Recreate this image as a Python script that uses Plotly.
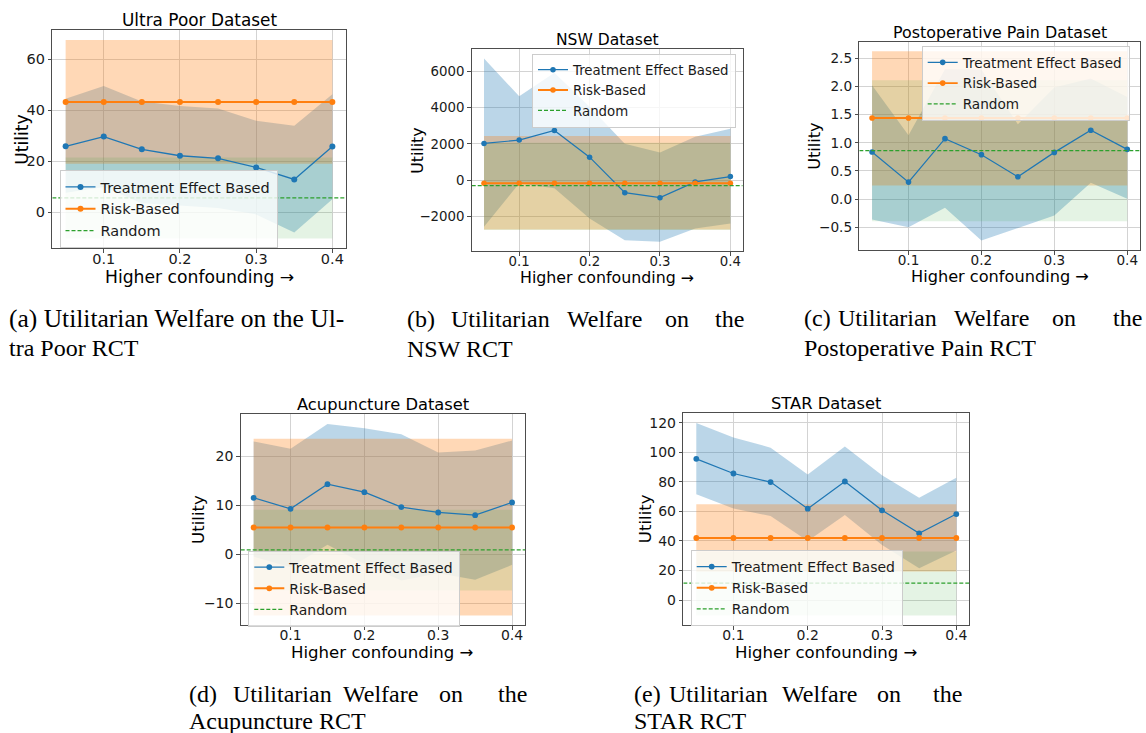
import plotly.graph_objects as go

W, H = 1146, 733

x_vals = [0.05, 0.10, 0.15, 0.20, 0.25, 0.30, 0.35, 0.40]
x_ticks = [0.1, 0.2, 0.3, 0.4]

# ---- Ultra Poor ----
up_te = [25.8, 29.6, 24.6, 22.1, 21.1, 17.5, 12.8, 25.7]
up_te_lo = [7.6, 9.8, 3.5, 2.6, 1.6, -0.9, -8.0, 5.0]
up_te_hi = [44.4, 49.4, 43.4, 41.6, 40.6, 35.8, 33.9, 46.2]
up_risk = [43.2, 43.2, 43.2, 43.2, 43.2, 43.2, 43.2, 43.2]
up_risk_lo = [19.0, 19.0, 19.0, 19.0, 19.0, 19.0, 19.0, 19.0]
up_risk_hi = [67.5, 67.5, 67.5, 67.5, 67.5, 67.5, 67.5, 67.5]
up_rand = [5.6, 5.6, 5.6, 5.6, 5.6, 5.6, 5.6, 5.6]
up_rand_lo = [-10.3, -10.3, -10.3, -10.3, -10.3, -10.3, -10.3, -10.3]
up_rand_hi = [21.4, 21.4, 21.4, 21.4, 21.4, 21.4, 21.4, 21.4]
up_yticks = [0, 20, 40, 60]

# ---- NSW ----
nsw_te = [2028, 2212, 2747, 1272, -682, -958, -92, 203]
nsw_te_lo = [-2562, -166, -442, -2101, -3300, -3392, -2654, -2378]
nsw_te_hi = [6710, 4627, 5917, 4050, 2009, 1530, 2400, 2839]
nsw_risk = [-166, -166, -166, -166, -166, -166, -166, -166]
nsw_risk_lo = [-2710, -2710, -2710, -2710, -2710, -2710, -2710, -2710]
nsw_risk_hi = [2433, 2433, 2433, 2433, 2433, 2433, 2433, 2433]
nsw_rand = [-295, -295, -295, -295, -295, -295, -295, -295]
nsw_rand_lo = [-2740, -2740, -2740, -2740, -2740, -2740, -2740, -2740]
nsw_rand_hi = [2070, 2070, 2070, 2070, 2070, 2070, 2070, 2070]
nsw_yticks = [-2000, 0, 2000, 4000, 6000]

# ---- Postoperative Pain ----
pp_te = [0.836, 0.302, 1.074, 0.789, 0.397, 0.830, 1.222, 0.884]
pp_te_lo = [-0.362, -0.498, -0.154, -0.735, -0.516, -0.290, 0.290, 0.006]
pp_te_hi = [2.020, 1.133, 2.307, 2.300, 1.329, 1.980, 2.141, 1.815]
pp_risk = [1.441, 1.441, 1.441, 1.441, 1.441, 1.441, 1.441, 1.441]
pp_risk_lo = [0.243, 0.243, 0.243, 0.243, 0.243, 0.243, 0.243, 0.243]
pp_risk_hi = [2.627, 2.627, 2.627, 2.627, 2.627, 2.627, 2.627, 2.627]
pp_rand = [0.86, 0.86, 0.86, 0.86, 0.86, 0.86, 0.86, 0.86]
pp_rand_lo = [-0.391, -0.391, -0.391, -0.391, -0.391, -0.391, -0.391, -0.391]
pp_rand_hi = [2.111, 2.111, 2.111, 2.111, 2.111, 2.111, 2.111, 2.111]
pp_yticks = [-0.5, 0.0, 0.5, 1.0, 1.5, 2.0, 2.5]

# ---- Acupuncture ----
ac_te = [11.52, 9.27, 14.31, 12.68, 9.61, 8.52, 7.98, 10.57]
ac_te_lo = [-0.5, -2.7, 1.9, -2.0, -5.4, -3.9, -5.25, -2.18]
ac_te_hi = [23.04, 21.54, 26.65, 25.77, 24.54, 20.79, 21.2, 23.24]
ac_risk = [5.45, 5.45, 5.45, 5.45, 5.45, 5.45, 5.45, 5.45]
ac_risk_lo = [-12.54, -12.54, -12.54, -12.54, -12.54, -12.54, -12.54, -12.54]
ac_risk_hi = [23.6, 23.6, 23.6, 23.6, 23.6, 23.6, 23.6, 23.6]
ac_rand = [0.89, 0.89, 0.89, 0.89, 0.89, 0.89, 0.89, 0.89]
ac_rand_lo = [-7.43, -7.43, -7.43, -7.43, -7.43, -7.43, -7.43, -7.43]
ac_rand_hi = [9.07, 9.07, 9.07, 9.07, 9.07, 9.07, 9.07, 9.07]
ac_yticks = [-10, 0, 10, 20]

# ---- STAR ----
st_te = [95.5, 85.6, 79.8, 61.8, 80.2, 60.7, 45.2, 58.2]
st_te_lo = [71.5, 62.0, 56.9, 40.0, 57.5, 37.3, 21.6, 33.5]
st_te_hi = [119.8, 109.9, 103.1, 84.9, 103.8, 84.5, 69.2, 82.7]
st_risk = [42.0, 42.0, 42.0, 42.0, 42.0, 42.0, 42.0, 42.0]
st_risk_lo = [19.3, 19.3, 19.3, 19.3, 19.3, 19.3, 19.3, 19.3]
st_risk_hi = [64.9, 64.9, 64.9, 64.9, 64.9, 64.9, 64.9, 64.9]
st_rand = [11.5, 11.5, 11.5, 11.5, 11.5, 11.5, 11.5, 11.5]
st_rand_lo = [-10.3, -10.3, -10.3, -10.3, -10.3, -10.3, -10.3, -10.3]
st_rand_hi = [32.8, 32.8, 32.8, 32.8, 32.8, 32.8, 32.8, 32.8]
st_yticks = [0, 20, 40, 60, 80, 100, 120]

titles = ["Ultra Poor Dataset", "NSW Dataset", "Postoperative Pain Dataset",
          "Acupuncture Dataset", "STAR Dataset"]
series_names = ["Treatment Effect Based", "Risk-Based", "Random"]
x_label = "Higher confounding →"
y_label = "Utility"

# box = (left, right, top, bottom) in px; legend = top-left px; s = text scale; ylx = y-label x
panels = [
    dict(te=(up_te, up_te_lo, up_te_hi), risk=(up_risk, up_risk_lo, up_risk_hi),
         rand=(up_rand, up_rand_lo, up_rand_hi), yticks=up_yticks, fmt="{:g}",
         box=(52.3, 345.7, 30.0, 248.3), legend=(59.5, 170.0), s=1.0, ylx=21.7),
    dict(te=(nsw_te, nsw_te_lo, nsw_te_hi), risk=(nsw_risk, nsw_risk_lo, nsw_risk_hi),
         rand=(nsw_rand, nsw_rand_lo, nsw_rand_hi), yticks=nsw_yticks, fmt="{:g}",
         box=(471.7, 742.7, 49.3, 251.0), legend=(532.0, 53.5), s=0.92, ylx=416.7),
    dict(te=(pp_te, pp_te_lo, pp_te_hi), risk=(pp_risk, pp_risk_lo, pp_risk_hi),
         rand=(pp_rand, pp_rand_lo, pp_rand_hi), yticks=pp_yticks, fmt="{:.1f}",
         box=(859.3, 1140.0, 41.7, 250.0), legend=(921.7, 46.0), s=0.94, ylx=815.0),
    dict(te=(ac_te, ac_te_lo, ac_te_hi), risk=(ac_risk, ac_risk_lo, ac_risk_hi),
         rand=(ac_rand, ac_rand_lo, ac_rand_hi), yticks=ac_yticks, fmt="{:g}",
         box=(240.7, 525.0, 414.3, 625.0), legend=(248.3, 550.5), s=0.965, ylx=198.3),
    dict(te=(st_te, st_te_lo, st_te_hi), risk=(st_risk, st_risk_lo, st_risk_hi),
         rand=(st_rand, st_rand_lo, st_rand_hi), yticks=st_yticks, fmt="{:g}",
         box=(683.3, 969.3, 413.3, 625.0), legend=(690.7, 550.0), s=0.965, ylx=645.0),
]

BLUE, ORANGE, GREEN = "#1f77b4", "#ff7f0e", "#2ca02c"
FILL = {"te": "rgba(31,119,180,0.3)", "risk": "rgba(255,127,14,0.3)",
        "rand": "rgba(44,160,44,0.13)"}
FONT = "DejaVu Sans"
SPINE = "#4d4d4d"
GRID = "#d3d3d3"

fig = go.Figure()
layout = dict(width=W, height=H, margin=dict(l=0, r=0, t=0, b=0),
              paper_bgcolor="white", plot_bgcolor="white", showlegend=True)
annotations = []


def px_x(v):
    return v / W


def px_y(v):
    return 1 - v / H


for i, p in enumerate(panels):
    n = "" if i == 0 else str(i + 1)
    xa, ya = "x" + n, "y" + n
    lg = "legend" + n
    l, r, t, b = p["box"]
    s = p["s"]

    xpad = 0.05 * (x_vals[-1] - x_vals[0])
    x_lo, x_hi = x_vals[0] - xpad, x_vals[-1] + xpad

    # confidence bands (drawn first, beneath lines)
    for key in ["te", "risk", "rand"]:
        mean, lo, hi = p[key]
        fig.add_trace(go.Scatter(
            x=x_vals + x_vals[::-1], y=hi + lo[::-1], fill="toself",
            fillcolor=FILL[key], line=dict(width=0), mode="lines",
            hoverinfo="skip", showlegend=False, xaxis=xa, yaxis=ya))

    fig.add_trace(go.Scatter(
        x=x_vals, y=p["te"][0], mode="lines+markers", name=series_names[0],
        line=dict(color=BLUE, width=1.3 * s), marker=dict(color=BLUE, size=6 * s),
        xaxis=xa, yaxis=ya, legend=lg))
    fig.add_trace(go.Scatter(
        x=x_vals, y=p["risk"][0], mode="lines+markers", name=series_names[1],
        line=dict(color=ORANGE, width=2 * s), marker=dict(color=ORANGE, size=6 * s),
        xaxis=xa, yaxis=ya, legend=lg))
    # random baseline spans the full axis width (like axhline)
    fig.add_trace(go.Scatter(
        x=[x_lo, x_hi], y=[p["rand"][0][0], p["rand"][0][-1]], mode="lines",
        name=series_names[2], line=dict(color=GREEN, width=1.3 * s, dash="4px,2px"),
        xaxis=xa, yaxis=ya, legend=lg))

    allv = p["te"][1] + p["te"][2] + p["risk"][1] + p["risk"][2] + p["rand"][1] + p["rand"][2]
    lo_v, hi_v = min(allv), max(allv)
    pad = 0.05 * (hi_v - lo_v)

    common = dict(showline=True, mirror=True, linecolor=SPINE, linewidth=1,
                  ticks="outside", ticklen=3.5, tickcolor=SPINE, tickwidth=1,
                  showgrid=True, gridcolor=GRID, gridwidth=1, zeroline=False,
                  tickfont=dict(family=FONT, size=14.5 * s, color="#1a1a1a"))
    layout["xaxis" + n] = dict(
        domain=[px_x(l), px_x(r)], anchor=ya, range=[x_lo, x_hi],
        tickvals=x_ticks, ticktext=["{:g}".format(v) for v in x_ticks],
        ticklabelstandoff=-6, **common)
    layout["yaxis" + n] = dict(
        domain=[px_y(b), px_y(t)], anchor=xa, range=[lo_v - pad, hi_v + pad],
        tickvals=p["yticks"],
        ticktext=[p["fmt"].format(v).replace("-", "\u2212") for v in p["yticks"]],
        **common)

    lx, ly = p["legend"]
    layout[lg] = dict(x=px_x(lx), y=px_y(ly), xanchor="left", yanchor="top",
                      xref="paper", yref="paper",
                      bgcolor="rgba(255,255,255,0.8)", bordercolor="#cccccc",
                      borderwidth=1, font=dict(family=FONT, size=14.5 * s, color="#1a1a1a"),
                      itemwidth=30, tracegroupgap=0)

    cx = (l + r) / 2
    annotations.append(dict(text=titles[i], x=px_x(cx), y=px_y(t - 9.5), xref="paper",
                            yref="paper", xanchor="center", yanchor="middle",
                            showarrow=False, font=dict(family=FONT, size=16.9 * s, color="black")))
    annotations.append(dict(text=x_label, x=px_x(cx), y=px_y(b + 28.5 * s), xref="paper",
                            yref="paper", xanchor="center", yanchor="middle",
                            showarrow=False, font=dict(family=FONT, size=17.2 * s, color="black")))
    annotations.append(dict(text=y_label, x=px_x(p["ylx"]), y=px_y((t + b) / 2), xref="paper",
                            yref="paper", xanchor="center", yanchor="middle", textangle=-90,
                            showarrow=False, font=dict(family=FONT, size=17.2 * s, color="black")))

# ---- captions (justified first lines placed word by word) ----
CAP_FONT = dict(family="Liberation Serif", size=24, color="black")
captions = [
    ([("(a) Utilitarian Welfare on the Ul-", 7)], 318,
     [("tra Poor RCT", 7)], 348),
    ([("(b)", 405), ("Utilitarian", 449), ("Welfare", 565), ("on", 663), ("the", 713)], 319,
     [("NSW RCT", 405)], 349),
    ([("(c)", 802), ("Utilitarian", 836), ("Welfare", 952), ("on", 1050), ("the", 1111)], 318,
     [("Postoperative Pain RCT", 802)], 348),
    ([("(d)", 187), ("Utilitarian", 231), ("Welfare", 341), ("on", 437), ("the", 496)], 694,
     [("Acupuncture RCT", 187)], 721),
    ([("(e)", 632), ("Utilitarian", 667), ("Welfare", 780), ("on", 875), ("the", 931)], 694,
     [("STAR RCT", 632)], 721),
]
for line1, y1, line2, y2 in captions:
    words = [(txt, xp, y1) for txt, xp in line1] + [(txt, xp, y2) for txt, xp in line2]
    for txt, xp, yp in words:
        size = 25.5 if txt.startswith("(a)") else 24
        annotations.append(dict(text=txt, x=px_x(xp), y=px_y(yp), xref="paper", yref="paper",
                                xanchor="left", yanchor="middle", showarrow=False,
                                font=dict(CAP_FONT, size=size)))

layout["annotations"] = annotations
fig.update_layout(**layout)
fig.write_html("out.html", config={"displayModeBar": False},
               post_script="document.body.style.margin='0px';")
